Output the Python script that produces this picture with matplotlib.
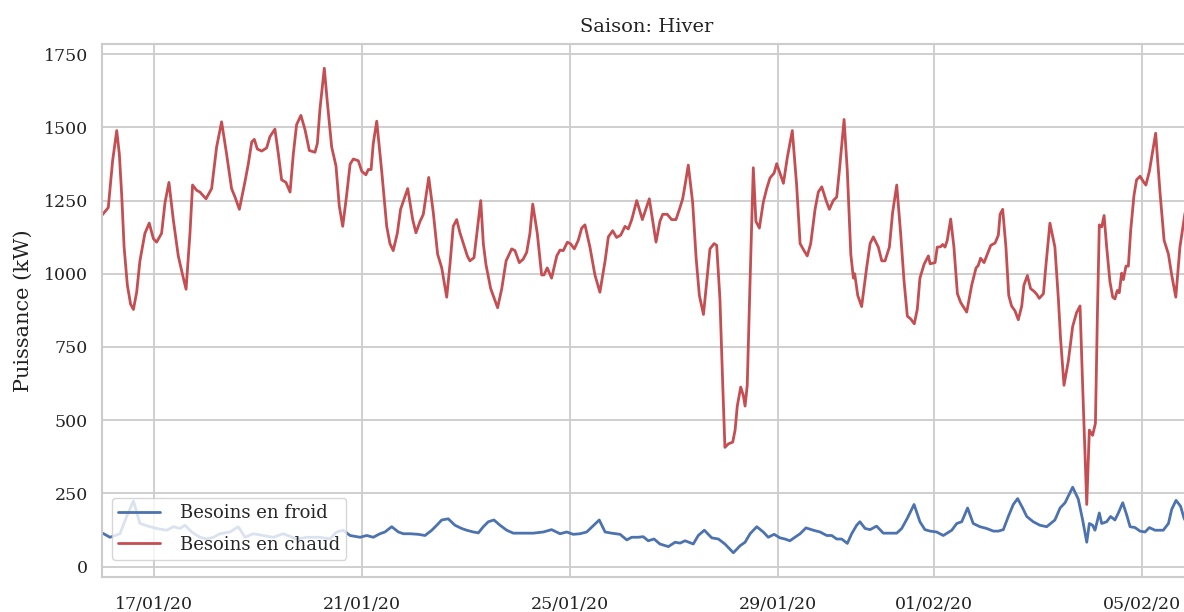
import matplotlib
matplotlib.use("Agg")
import matplotlib.pyplot as plt
import matplotlib.dates as mdates
import pandas as pd
import seaborn as sns

# Heating / cooling power demand, winter period (hours counted from 16/01/2020 00:00)
debut = pd.Timestamp("2020-01-16 00:00")

heures_chaud = [
    0.0, 2.9, 4.9, 6.8, 8.0, 9.1, 10.2, 11.7, 13.2, 14.5, 16.0, 17.5, 19.8, 21.8,
    23.7, 25.2, 27.5, 29.1, 30.9, 32.9, 35.2, 37.2, 38.8, 40.6, 41.8, 43.7, 45.2,
    48.0, 50.6, 52.9, 55.2, 57.5, 59.8, 61.4, 63.4, 66.0, 67.5, 69.1, 70.3, 71.7,
    73.7, 76.0, 77.5, 79.8, 81.4, 82.9, 84.9, 86.8, 88.3, 89.8, 91.8, 93.7, 95.7,
    98.3, 99.4, 100.6, 102.6, 104.0, 106.0, 108.0, 109.5, 111.1, 112.9, 114.5,
    116.0, 118.3, 119.9, 121.8, 122.9, 124.2, 125.2, 126.8, 129.1, 131.4, 132.9,
    134.4, 136.3, 137.8, 141.1, 143.4, 144.9, 146.8, 148.3, 150.8, 152.9, 154.9,
    156.8, 159.1, 160.6, 162.1, 163.7, 165.2, 166.8, 168.6, 169.8, 171.7, 173.2,
    174.8, 176.0, 177.2, 179.4, 182.6, 184.5, 186.5, 189.1, 190.6, 192.6, 194.4,
    196.0, 197.5, 198.8, 200.9, 202.9, 204.0, 205.5, 207.5, 209.9, 211.4, 212.9,
    214.8, 216.3, 218.0, 219.8, 221.4, 222.9, 225.2, 227.5, 229.8, 232.2, 233.7,
    235.7, 237.5, 239.4, 241.4, 242.9, 244.5, 246.8, 249.4, 252.6, 255.7, 257.5,
    258.8, 260.9, 262.9, 264.9, 266.5, 268.0, 269.1, 270.6, 272.6, 274.2, 275.7,
    277.6, 279.1, 280.6, 282.5, 283.7, 285.2, 286.5, 287.5, 289.1, 291.1, 292.2,
    293.2, 294.8, 296.0, 296.8, 297.8, 299.1, 300.6, 301.8, 303.4, 305.2, 306.8,
    308.3, 310.2, 311.4, 312.9, 314.5, 316.3, 318.6, 320.6, 322.2, 324.0, 325.5,
    327.1, 329.1, 330.6, 332.2, 334.2, 335.7, 337.5, 339.1, 340.3, 342.5, 344.0,
    345.6, 346.8, 347.4, 348.8, 350.6, 352.9, 354.5, 356.0, 358.3, 359.9, 361.4,
    363.4, 364.9, 366.8, 368.6, 370.2, 371.7, 373.2, 374.9, 376.3, 377.5, 379.4,
    381.4, 382.2, 384.5, 385.5, 387.0, 388.0, 389.1, 390.1, 391.7, 393.2, 394.8,
    396.3, 399.1, 401.4, 403.4, 404.4, 405.5, 407.1, 408.6, 410.2, 412.2, 413.7,
    414.5, 415.7, 417.2, 418.5, 419.8, 421.4, 422.9, 424.5, 425.5, 427.1, 428.6,
    430.2, 431.4, 432.6, 434.5, 435.7, 437.5, 439.8, 441.4, 442.4, 444.0, 446.0,
    448.0, 449.8, 451.4, 452.6, 453.7, 454.5, 455.7, 457.2, 458.5, 459.4, 460.3,
    461.4, 462.5, 463.7, 465.2, 466.5, 467.5, 468.6, 469.5, 470.6, 471.4, 472.6,
    473.7, 474.8, 476.3, 477.5, 479.1, 480.6, 481.8, 483.4, 486.3, 488.3, 490.2,
    492.2, 493.7, 495.6, 497.5, 499.4, 500.5,
]
besoins_chaud = [
    1200, 1226, 1386, 1489, 1409, 1268, 1091, 961, 896, 878, 937, 1044, 1138, 1173,
    1120, 1108, 1138, 1244, 1312, 1185, 1061, 996, 947, 1138, 1303, 1285, 1279,
    1256, 1291, 1433, 1519, 1409, 1291, 1262, 1220, 1315, 1374, 1450, 1459, 1426,
    1419, 1430, 1468, 1494, 1409, 1321, 1312, 1279, 1409, 1509, 1541, 1492, 1421,
    1415, 1445, 1563, 1702, 1586, 1433, 1368, 1232, 1162, 1268, 1374,
    1392, 1386, 1350, 1338, 1356, 1356, 1445, 1521, 1350, 1162, 1103,
    1079, 1138, 1220, 1291, 1185, 1140, 1179, 1203, 1329, 1209, 1067,
    1020, 920, 1032, 1162, 1185, 1140, 1103, 1061, 1044, 1055, 1150,
    1250, 1103, 1032, 949, 884, 949, 1044, 1085, 1079, 1038, 1050,
    1073, 1138, 1238, 1138, 996, 996, 1020, 985, 1061, 1081, 1079,
    1108, 1102, 1085, 1114, 1156, 1167, 1091, 996, 937, 1044, 1126,
    1147, 1124, 1132, 1162, 1153, 1185, 1250, 1185, 1256, 1108, 1179,
    1203, 1203, 1185, 1185, 1220, 1256, 1303, 1371, 1244, 1055, 926,
    861, 973, 1085, 1103, 1097, 914, 619, 407, 419, 425, 466,
    548, 613, 584, 548, 619, 973, 1362, 1179, 1156, 1244, 1291,
    1327, 1344, 1376, 1344, 1309, 1397, 1489, 1303, 1103, 1079, 1061,
    1103, 1220, 1279, 1297, 1250, 1220, 1250, 1262, 1350, 1527, 1350,
    1067, 985, 1000, 926, 888, 1020, 1103, 1126, 1091, 1044, 1044,
    1091, 1209, 1303, 1138, 973, 855, 846, 829, 879, 985, 1032,
    1061, 1034, 1038, 1091, 1092, 1100, 1091, 1114, 1187, 1091, 932,
    902, 869, 961, 1020, 1028, 1053, 1038, 1067, 1097, 1105, 1132,
    1203, 1220, 1091, 926, 890, 873, 843, 890, 961, 994, 949,
    940, 930, 916, 932, 1032, 1173, 1091, 914, 780, 619, 702,
    820, 867, 890, 619, 383, 212, 466, 448, 489, 855, 1167,
    1160, 1199, 1091, 973, 920, 914, 943, 935, 1002, 980, 1026,
    1026, 1150, 1268, 1321, 1333, 1315, 1303, 1350, 1480, 1279, 1114,
    1067, 996, 920, 1091, 1185, 1240,
]

heures_froid = [
    0.0, 3.7, 8.3, 11.4, 14.5, 17.5, 22.2, 25.2, 29.9, 32.9, 36.0, 38.3, 41.4,
    45.2, 48.3, 51.4, 54.5, 59.1, 62.9, 66.0, 69.8, 74.5, 79.1, 83.7, 89.8, 94.5,
    100.6, 105.2, 108.3, 111.3, 114.5, 119.1, 122.2, 125.2, 128.3, 130.6, 133.7,
    136.8, 139.1, 142.2, 146.0, 149.1, 152.2, 154.5, 156.8, 159.8, 162.9, 166.0,
    168.3, 171.4, 173.7, 176.0, 178.3, 180.9, 183.7, 186.8, 189.8, 194.4, 199.1,
    203.7, 207.5, 211.4, 214.5, 217.5, 220.6, 223.7, 226.8, 229.5, 232.2, 235.2,
    239.1, 242.2, 244.5, 247.5, 249.8, 252.1, 254.8, 257.5, 261.4, 264.5, 266.8,
    269.1, 272.9, 275.2, 278.0, 281.4, 284.5, 287.5, 291.4, 294.5, 296.8, 299.1,
    302.2, 305.2, 307.5, 310.2, 312.9, 315.2, 317.5, 319.8, 322.2, 324.9, 328.3,
    331.4, 334.5, 336.8, 339.1, 341.4, 344.0, 346.0, 348.3, 349.8, 352.2, 354.5,
    357.5, 360.6, 363.7, 366.8, 369.1, 371.7, 374.8, 377.5, 379.8, 382.2, 385.2,
    388.3, 392.2, 394.5, 396.8, 399.5, 402.1, 405.2, 408.3, 411.4, 413.7, 416.0,
    418.3, 420.6, 422.6, 424.9, 426.8, 429.8, 432.9, 436.0, 439.8, 442.2, 444.5,
    448.0, 450.6, 452.6, 454.5, 455.7, 457.2, 458.3, 460.3, 461.4, 463.7, 465.5,
    467.5, 469.1, 471.1, 472.9, 474.5, 476.8, 479.1, 481.4, 483.4, 486.0, 489.8,
    492.2, 493.7, 495.7, 497.8, 499.4, 500.5,
]
besoins_froid = [
    115, 100, 112, 171, 224, 147, 136, 130, 124, 136, 130, 141, 118,
    100, 94, 100, 112, 118, 136, 100, 112, 106, 100, 112, 94, 100,
    100, 94, 118, 124, 106, 100, 106, 100, 112, 118, 136,
    118, 112, 112, 110, 106, 124, 141, 159, 163, 141, 130,
    124, 118, 115, 136, 153, 159, 141, 124, 114, 114, 114,
    118, 126, 112, 118, 110, 112, 118, 140, 159, 118, 114,
    110, 91, 100, 100, 102, 88, 94, 77, 68, 83, 80,
    88, 77, 106, 124, 98, 94, 77, 47, 71, 83, 112,
    136, 118, 100, 110, 98, 94, 88, 100, 112, 132, 124,
    118, 106, 106, 94, 94, 79, 112, 141, 153, 130, 126,
    138, 114, 114, 114, 130, 165, 212, 153, 126, 121, 118,
    106, 124, 147, 153, 200, 147, 136, 130, 121, 121, 126,
    171, 212, 232, 200, 171, 153, 141, 136, 159, 200, 218,
    271, 230, 159, 83, 147, 141, 124, 183, 147, 153, 171,
    159, 183, 218, 177, 136, 133, 121, 118, 133, 124, 124,
    147, 195, 226, 206, 165, 150,
]

titre = "Saison: Hiver"
label_y = "Puissance (kW)"
label_froid = "Besoins en froid"
label_chaud = "Besoins en chaud"
fin_axe_heures = 503

t_chaud = debut + pd.to_timedelta(heures_chaud, unit="h")
t_froid = debut + pd.to_timedelta(heures_froid, unit="h")

sns.set_theme(style="whitegrid")
plt.rcParams["font.family"] = ["DejaVu Serif"]
plt.rcParams["axes.edgecolor"] = "#cccccc"
plt.rcParams["grid.color"] = "#cccccc"

W, H = 1184, 612
fig = plt.figure(figsize=(W / 100, H / 100), dpi=100)
x0, x1 = 102, 102 + fin_axe_heures * 52 / 24
y_top, y_bot = 44, 577
ax = fig.add_axes([x0 / W, 1 - y_bot / H, (x1 - x0) / W, (y_bot - y_top) / H])

ax.plot(t_froid, besoins_froid, color="#4C72B0", lw=2.0, label=label_froid)
ax.plot(t_chaud, besoins_chaud, color="#C44E52", lw=2.0, label=label_chaud)

ax.set_xlim(debut, debut + pd.Timedelta(hours=fin_axe_heures))
ax.xaxis.set_major_locator(mdates.DayLocator(bymonthday=[1, 5, 9, 13, 17, 21, 25, 29]))
ax.xaxis.set_major_formatter(mdates.DateFormatter("%d/%m/%y"))
ax.set_yticks([0, 250, 500, 750, 1000, 1250, 1500, 1750])

for s in ax.spines.values():
    s.set_color("#cccccc")
    s.set_linewidth(1.5)
ax.grid(True, color="#cccccc", lw=1.3)

ax.tick_params(axis="x", labelsize=12.5, pad=14, colors="#222222", length=0)
ax.tick_params(axis="y", labelsize=12.5, pad=10, colors="#222222", length=0)
ax.set_ylabel(label_y, fontsize=15, color="#222222", labelpad=8)
ax.set_title(titre, fontsize=14, color="#222222", pad=9)

# legend box anchored just inside the lower-left corner of the axes
ax_w, ax_h = x1 - x0, y_bot - y_top
leg = ax.legend(loc="lower left", bbox_to_anchor=(10 / ax_w, 17 / ax_h),
                borderaxespad=0, fontsize=13, frameon=True, framealpha=0.8,
                edgecolor="#cccccc", fancybox=True, handlelength=2.3,
                handletextpad=1.1, labelspacing=0.75, borderpad=0.35)

fig.savefig("out.png", dpi=100)
